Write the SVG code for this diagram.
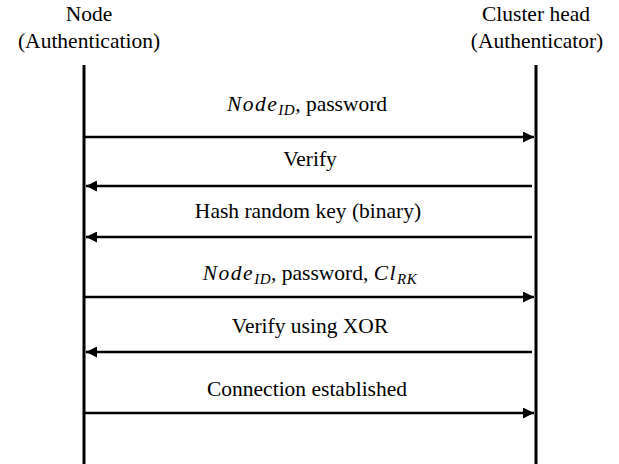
<svg xmlns="http://www.w3.org/2000/svg" width="619" height="464" viewBox="0 0 619 464">
<defs>
<style>
text{font-family:"Liberation Serif","DejaVu Serif",serif;font-size:21.5px;fill:#000;text-anchor:middle}
.it{font-style:italic;letter-spacing:1.5px}
.sub{font-size:15px;font-style:italic;letter-spacing:0.5px}
.life{stroke:#000;stroke-width:3;fill:none}
.msg{stroke:#000;stroke-width:2.5;fill:none}
</style>
<marker id="ah" viewBox="0 0 10 10" refX="10" refY="5" markerWidth="11" markerHeight="11" markerUnits="userSpaceOnUse" orient="auto">
<path d="M0,0 L10,5 L0,10 Z" fill="#000"/>
</marker>
</defs>
<g id="node">
<text x="89" y="21">Node</text>
<text x="89" y="48">(Authentication)</text>
<line class="life" x1="84" y1="65" x2="84" y2="464"/>
</g>
<g id="cluster-head">
<text x="536" y="21">Cluster head</text>
<text x="537" y="48">(Authenticator)</text>
<line class="life" x1="536" y1="65" x2="536" y2="464"/>
</g>
<g id="connectors">
<line class="msg" x1="85" y1="137" x2="534" y2="137" marker-end="url(#ah)"/>
<line class="msg" x1="532" y1="186" x2="86" y2="186" marker-end="url(#ah)"/>
<line class="msg" x1="532" y1="237" x2="86" y2="237" marker-end="url(#ah)"/>
<line class="msg" x1="85" y1="297" x2="534" y2="297" marker-end="url(#ah)"/>
<line class="msg" x1="532" y1="352" x2="86" y2="352" marker-end="url(#ah)"/>
<line class="msg" x1="85" y1="413" x2="534" y2="413" marker-end="url(#ah)"/>
<text x="307" y="111"><tspan class="it">Node</tspan><tspan class="sub" dy="4">ID</tspan><tspan dy="-4">, password</tspan></text>
<text x="310" y="166">Verify</text>
<text x="308" y="218">Hash random key (binary)</text>
<text x="310" y="280"><tspan class="it">Node</tspan><tspan class="sub" dy="4">ID</tspan><tspan dy="-4">, password, </tspan><tspan class="it">Cl</tspan><tspan class="sub" dy="4">RK</tspan></text>
<text x="310" y="333">Verify using XOR</text>
<text x="307" y="396">Connection established</text>
</g>
</svg>
